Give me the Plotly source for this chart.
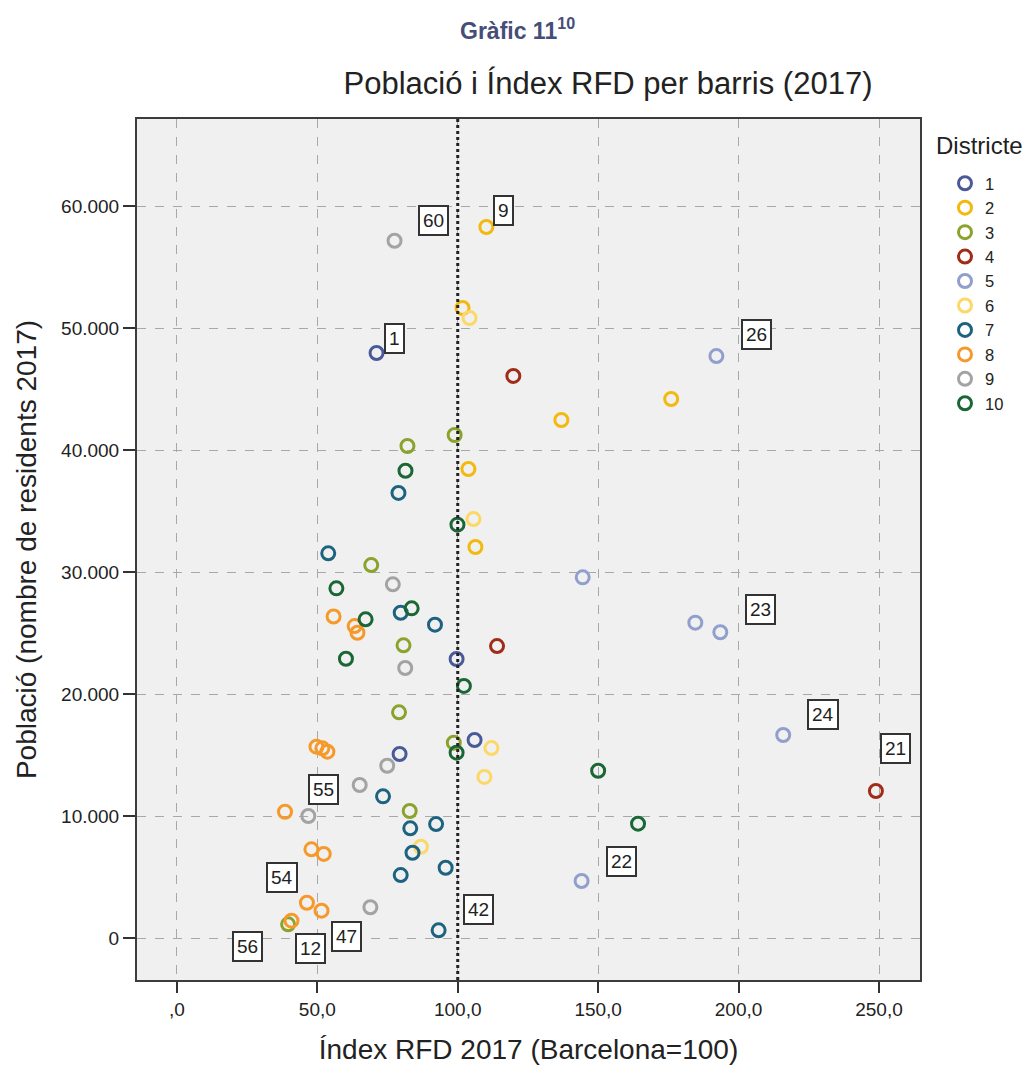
import plotly.graph_objects as go

# ---- data ----
DISTRICTS = ["1", "2", "3", "4", "5", "6", "7", "8", "9", "10"]
COLORS = ["#4a5a98", "#f2b90f", "#8aa32c", "#a02b18", "#909fcc",
          "#fcd866", "#1d6380", "#f5992a", "#a3a3a3", "#1a6634"]

RFD_1 = [71.1, 99.6, 106.0, 79.3]
POP_1 = [47950, 22870, 16230, 15080]
RFD_2 = [110.2, 101.7, 176.0, 136.9, 103.8, 106.3]
POP_2 = [58280, 51640, 44180, 42460, 38440, 32050]
RFD_3 = [98.9, 82.1, 69.2, 80.7, 79.1, 98.6, 82.9, 39.6]
POP_3 = [41230, 40330, 30570, 23990, 18500, 16010, 10410, 1120]
RFD_4 = [119.8, 114.0, 248.9]
POP_4 = [46070, 23930, 12050]
RFD_5 = [192.1, 144.5, 184.6, 193.5, 215.9, 144.1]
POP_5 = [47700, 29560, 25850, 25060, 16640, 4670]
RFD_6 = [104.2, 105.6, 112.0, 109.5, 86.9]
POP_6 = [50820, 34340, 15570, 13200, 7480]
RFD_7 = [78.9, 53.9, 79.7, 91.9, 73.4, 83.1, 92.3, 83.9, 95.7, 79.7, 93.2]
POP_7 = [36480, 31530, 26660, 25680, 11610, 8990, 9340, 6990, 5760, 5160, 630]
RFD_8 = [55.8, 63.3, 64.3, 49.7, 51.8, 53.6, 38.5, 47.9, 52.3, 46.3, 51.5, 40.8]
POP_8 = [26350, 25570, 25020, 15680, 15550, 15270, 10350, 7270, 6890, 2890, 2240, 1420]
RFD_9 = [77.5, 76.9, 81.3, 74.9, 65.1, 46.8, 68.9]
POP_9 = [57150, 28990, 22130, 14120, 12540, 10000, 2520]
RFD_10 = [81.4, 99.9, 56.8, 67.2, 83.6, 60.2, 102.2, 99.6, 150.0, 164.2]
POP_10 = [38300, 33880, 28660, 26120, 27020, 22890, 20660, 15190, 13710, 9370]

LABEL_TEXT = ["60", "9", "1", "26", "23", "24", "21", "22", "55", "54", "42", "47", "12", "56"]
LABEL_X = [91.4, 116.3, 77.5, 206.3, 207.7, 230.1, 256.0, 158.3, 52.3, 37.3, 107.4, 60.5, 47.7, 25.2]
LABEL_Y = [58850, 59670, 49180, 49430, 26890, 18280, 15570, 6310, 12210, 4920, 2300, 160, -820, -660]

X_TICKS = [0, 50, 100, 150, 200, 250]
X_TICK_TEXT = [",0", "50,0", "100,0", "150,0", "200,0", "250,0"]
Y_TICKS = [0, 10000, 20000, 30000, 40000, 50000, 60000]
Y_TICK_TEXT = ["0", "10.000", "20.000", "30.000", "40.000", "50.000", "60.000"]
REFERENCE_X = 100

RFD = [RFD_1, RFD_2, RFD_3, RFD_4, RFD_5, RFD_6, RFD_7, RFD_8, RFD_9, RFD_10]
POP = [POP_1, POP_2, POP_3, POP_4, POP_5, POP_6, POP_7, POP_8, POP_9, POP_10]

FONT = "Liberation Sans, Arial, sans-serif"
TXT = "#222222"

# plot-area geometry in page pixels
L, R, T, B = 137, 920, 119, 980
PW, PH = R - L, B - T


def px(xp):
    return (xp - L) / PW


def py(yp):
    return (B - yp) / PH


fig = go.Figure()
for name, col, xs, ys in zip(DISTRICTS, COLORS, RFD, POP):
    fig.add_trace(go.Scatter(
        x=xs, y=ys, mode="markers", name=name,
        marker=dict(symbol="circle-open", size=13, color=col,
                    line=dict(width=3, color=col)),
    ))

# reference line Barcelona = 100
fig.add_shape(type="line", xref="x", yref="paper", x0=REFERENCE_X, x1=REFERENCE_X,
              y0=0, y1=1, line=dict(color="#222222", width=3, dash="dot"))

for t, x, y in zip(LABEL_TEXT, LABEL_X, LABEL_Y):
    fig.add_annotation(x=x, y=y, xref="x", yref="y", text=t, showarrow=False,
                       font=dict(family=FONT, size=19, color=TXT),
                       bgcolor="white", bordercolor="#333333", borderwidth=2,
                       borderpad=3)

fig.add_annotation(x=px(517), y=py(29), xref="paper", yref="paper",
                   text="<b>Gràfic 11<sup>10</sup></b>", showarrow=False,
                   xanchor="center", yanchor="middle",
                   font=dict(family=FONT, size=23, color="#454e78"))

fig.add_annotation(x=px(934), y=py(146), xref="paper", yref="paper",
                   text="Districte", showarrow=False, xanchor="left", yanchor="middle",
                   font=dict(family=FONT, size=24, color=TXT))

fig.update_layout(
    width=1030, height=1065, autosize=False,
    margin=dict(l=L, r=1030 - R, t=T, b=1065 - B, autoexpand=False),
    paper_bgcolor="white", plot_bgcolor="#f0f0f0",
    font=dict(family=FONT, color=TXT),
    title=dict(text="Població i Índex RFD per barris (2017)",
               x=608 / 1030, xanchor="center", xref="container",
               y=1 - 83 / 1065, yanchor="middle", yref="container",
               font=dict(family=FONT, size=31, color=TXT)),
    showlegend=True,
    legend=dict(x=px(945), y=py(166), xanchor="left", yanchor="top",
                bgcolor="rgba(0,0,0,0)", font=dict(family=FONT, size=16.5, color=TXT),
                itemwidth=30, traceorder="normal"),
    xaxis=dict(range=[-14.2, 264.6], tickvals=X_TICKS, ticktext=X_TICK_TEXT,
               automargin=False,
               showgrid=True, gridcolor="#a8a8a8", griddash="dash", gridwidth=1,
               zeroline=False, showline=True, mirror=True, linecolor="#3c3c3c", linewidth=2,
               ticks="outside", ticklen=11, tickwidth=2, tickcolor="#333333",
               tickfont=dict(family=FONT, size=19, color=TXT),
               title=dict(text="Índex RFD 2017 (Barcelona=100)", standoff=21,
                          font=dict(family=FONT, size=28, color=TXT))),
    yaxis=dict(range=[-3443, 67131], tickvals=Y_TICKS, ticktext=Y_TICK_TEXT,
               automargin=False,
               showgrid=True, gridcolor="#a8a8a8", griddash="dash", gridwidth=1,
               zeroline=False, showline=True, mirror=True, linecolor="#3c3c3c", linewidth=2,
               ticks="outside", ticklen=12, tickwidth=2, tickcolor="#333333",
               tickfont=dict(family=FONT, size=19, color=TXT),
               title=dict(text="Població (nombre de residents 2017)", standoff=16,
                          font=dict(family=FONT, size=28, color=TXT))),
)

fig.write_html("out.html", config={"displayModeBar": False},
               post_script="document.body.style.margin='0';"
                           "document.body.style.overflow='hidden';")
